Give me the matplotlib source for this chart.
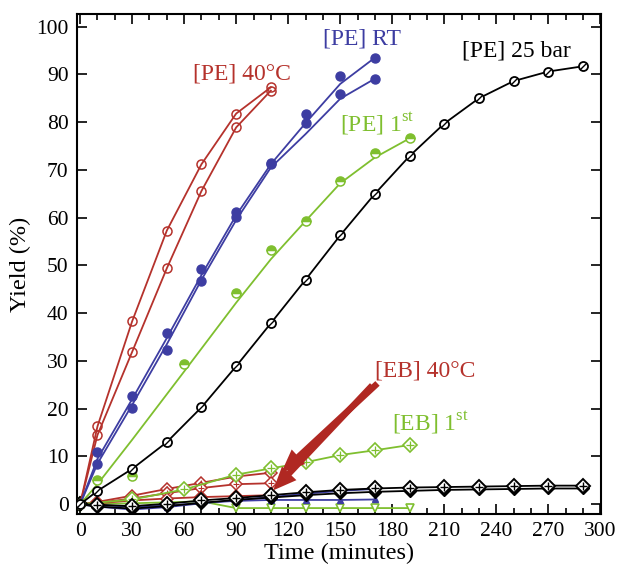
import matplotlib
matplotlib.use('Agg')
import matplotlib.pyplot as plt
from matplotlib.path import Path
from matplotlib.ticker import MultipleLocator

plt.rcParams['font.family'] = ['Liberation Serif', 'DejaVu Serif']
plt.rcParams['mathtext.fontset'] = 'custom'
plt.rcParams['mathtext.rm'] = 'Liberation Serif'

# ---------------- data ----------------
t_pe40 = [0, 10, 30, 50, 70, 90, 110]
pe40_a = [0, 16.3, 38.3, 57.3, 71.2, 81.8, 87.3]
pe40_b = [0, 14.5, 31.9, 49.4, 65.6, 78.9, 86.6]

t_rt = [0, 10, 30, 50, 70, 90, 110, 130, 150, 170]
rt_a = [0, 11.0, 22.6, 35.8, 49.3, 61.2, 71.5, 81.8, 89.6, 93.5]
rt_b = [0, 8.5, 20.2, 32.2, 46.8, 60.2, 71.2, 79.8, 85.8, 89.1]
rt_a_fit = [0, 9.5, 22.0, 34.8, 48.0, 60.5, 71.2, 79.8, 88.0, 93.5]
rt_b_fit = [0, 8.5, 20.8, 33.5, 47.0, 59.5, 70.5, 77.5, 84.9, 89.1]

t_pe1 = [0, 10, 30, 60, 90, 110, 130, 150, 170, 190]
pe1 = [0, 5.0, 6.0, 29.4, 44.2, 53.3, 59.4, 67.6, 73.6, 76.6]
pe1_fit = [0, 4.2, 13.5, 27.8, 42.2, 51.3, 59.3, 67.2, 72.6, 76.6]

t_25 = [0, 10, 30, 50, 70, 90, 110, 130, 150, 170, 190, 210, 230, 250, 270, 290]
pe25 = [0, 2.8, 7.4, 13.0, 20.3, 28.9, 37.9, 47.0, 56.3, 65.0, 72.9, 79.7, 85.0, 88.6, 90.6, 91.7]
eb25_a = [0, -0.1, -0.4, 0.1, 0.8, 1.3, 1.9, 2.5, 3.0, 3.3, 3.5, 3.6, 3.7, 3.8, 3.9, 3.9]
eb25_b = [0, -0.5, -0.9, -0.4, 0.3, 0.9, 1.4, 1.9, 2.3, 2.6, 2.8, 3.0, 3.1, 3.2, 3.3, 3.3]

t_eb40 = [0, 10, 30, 50, 70, 90, 110]
eb40_a = [0, 0.5, 1.8, 3.2, 4.5, 5.8, 6.6]
eb40_b = [0, 0.3, 1.2, 2.3, 3.4, 4.2, 4.4]
eb40_c = [0, 0.2, 0.8, 1.2, 1.5, 1.7, 1.9]

t_eb1 = [0, 30, 60, 90, 110, 130, 150, 170, 190]
eb1 = [0, 1.0, 3.1, 6.2, 7.5, 8.8, 10.3, 11.3, 12.4]

t_ebrt = [0, 10, 30, 50, 70, 90, 110, 130, 150, 170]
ebrt_a = [0, -0.5, -1.1, -0.6, 0.2, 0.9, 1.5, 2.2, 2.8, 3.2]
ebrt_b = [0, -0.2, -0.5, -0.3, 0.3, 0.7, 0.9, 0.9, 0.9, 1.0]

t_ebx = [0, 10, 30, 50, 70, 90, 110, 130, 150, 170, 190]
ebx = [0, 0.1, 0.2, 0.4, 0.6, -0.8, -0.8, -0.8, -0.8, -0.8, -0.8]

x_ticks = [0, 30, 60, 90, 120, 150, 180, 210, 240, 270, 300]
y_ticks = [0, 10, 20, 30, 40, 50, 60, 70, 80, 90, 100]

# ---------------- style ----------------
RED = '#b5322c'
BLUE = '#3d3da2'
GREEN = '#7fbf2f'
BLACK = '#000000'
ARROW = '#b02822'
LW = 1.3
MS = 6.5
slash = Path([(-1, -1), (1, 1)], [Path.MOVETO, Path.LINETO])

fig = plt.figure(figsize=(6.21, 5.69), dpi=100)
ax = fig.add_axes([0.124, 0.097, 0.844, 0.878])

# EB low series
ax.plot(t_ebx, ebx, color=GREEN, lw=LW, marker='v', ms=6, mfc='white', mec=GREEN, mew=1.2, zorder=2)
ax.plot(t_ebrt, ebrt_a, color=BLUE, lw=LW, marker='^', ms=5, mfc=BLUE, mec=BLUE, zorder=2)
ax.plot(t_ebrt, ebrt_b, color=BLUE, lw=LW, marker='^', ms=5, mfc=BLUE, mec=BLUE, zorder=2)
for yy in (eb40_a, eb40_b, eb40_c):
    ax.plot(t_eb40, yy, color=RED, lw=LW, marker='D', ms=6, mfc='white', mec=RED, mew=1.1, zorder=3)
    ax.plot(t_eb40, yy, ls='none', marker='+', ms=5, mec=RED, mew=0.8, zorder=3)
ax.plot(t_eb1, eb1, color=GREEN, lw=LW, marker='D', ms=7, mfc='white', mec=GREEN, mew=1.2, zorder=3)
ax.plot(t_eb1, eb1, ls='none', marker='+', ms=6, mec=GREEN, mew=0.9, zorder=3)
ax.plot(t_25, eb25_b, color=BLACK, lw=LW, marker='D', ms=6.5, mfc=BLACK, mec=BLACK, zorder=4)
ax.plot(t_25, eb25_a, color=BLACK, lw=LW, marker='D', ms=7, mfc='white', mec=BLACK, mew=1.4, zorder=4)
ax.plot(t_25, eb25_a, ls='none', marker='+', ms=6, mec=BLACK, mew=1.0, zorder=4)

# PE series
ax.plot(t_pe40, pe40_a, color=RED, lw=LW, marker='o', ms=MS, mfc='none', mec=RED, mew=1.1, zorder=5)
ax.plot(t_pe40, pe40_b, color=RED, lw=LW, marker='o', ms=MS, mfc='none', mec=RED, mew=1.1, zorder=5)

ax.plot(t_rt, rt_a_fit, color=BLUE, lw=LW, zorder=5)
ax.plot(t_rt, rt_b_fit, color=BLUE, lw=LW, zorder=5)
ax.plot(t_rt, rt_a, ls='none', marker='o', ms=MS, mfc=BLUE, mec=BLUE, zorder=5)
ax.plot(t_rt, rt_b, ls='none', marker='o', ms=MS, mfc=BLUE, mec=BLUE, zorder=5)

ax.plot(t_pe1, pe1_fit, color=GREEN, lw=LW, zorder=5)
ax.plot(t_pe1, pe1, ls='none', marker='o', ms=MS, fillstyle='top', mfc=GREEN,
        mfcalt='white', mec=GREEN, mew=1.1, zorder=5)

ax.plot(t_25, pe25, color=BLACK, lw=LW, marker='o', ms=MS, mfc='white', mec=BLACK, mew=1.3, zorder=5)
ax.plot(t_25, pe25, ls='none', marker=slash, ms=4.5, mec=BLACK, mew=1.0, zorder=5)

# labels on the plot
ax.text(64.9, 90.1, '[PE] 40°C', color=RED, fontsize=17, va='center', ha='left')
ax.text(140, 97.4, '[PE] RT', color=BLUE, fontsize=17, va='center', ha='left')
ax.text(220.3, 94.8, '[PE] 25 bar', color=BLACK, fontsize=17, va='center', ha='left')
ax.text(150, 79.6, r'[PE] 1$^{\mathrm{st}}$', color=GREEN, fontsize=17, va='center', ha='left')
ax.text(169.8, 27.8, '[EB] 40°C', color=RED, fontsize=17, va='center', ha='left')
ax.text(180, 17.0, r'[EB] 1$^{\mathrm{st}}$', color=GREEN, fontsize=17, va='center', ha='left')

arrow_style = 'simple,head_length=1.3,head_width=1.1,tail_width=0.35'
ax.annotate('', xy=(116, 6.6), xytext=(171.5, 25.3),
            arrowprops=dict(arrowstyle=arrow_style, color=ARROW, mutation_scale=13,
                            shrinkA=0, shrinkB=0, lw=0), zorder=6)
ax.annotate('', xy=(111.3, 2.9), xytext=(168.5, 24.9),
            arrowprops=dict(arrowstyle=arrow_style, color=ARROW, mutation_scale=13,
                            shrinkA=0, shrinkB=0, lw=0), zorder=6)

ax.set_xlim(-1.8, 300.5)
ax.set_ylim(-2, 102.6)
ax.set_xticks(x_ticks)
ax.set_yticks(y_ticks)
ax.xaxis.set_minor_locator(MultipleLocator(10))
ax.tick_params(which='both', direction='in', top=True, right=True, labelsize=15.5, width=1.2)
ax.tick_params(which='major', length=7, pad=6)
ax.tick_params(which='minor', length=4)
for s in ax.spines.values():
    s.set_linewidth(1.5)

ax.set_xlabel('Time (minutes)', fontsize=17.5, labelpad=1)
ax.set_ylabel('Yield (%)', fontsize=17.5, labelpad=4)

fig.savefig('out.png', dpi=100)
